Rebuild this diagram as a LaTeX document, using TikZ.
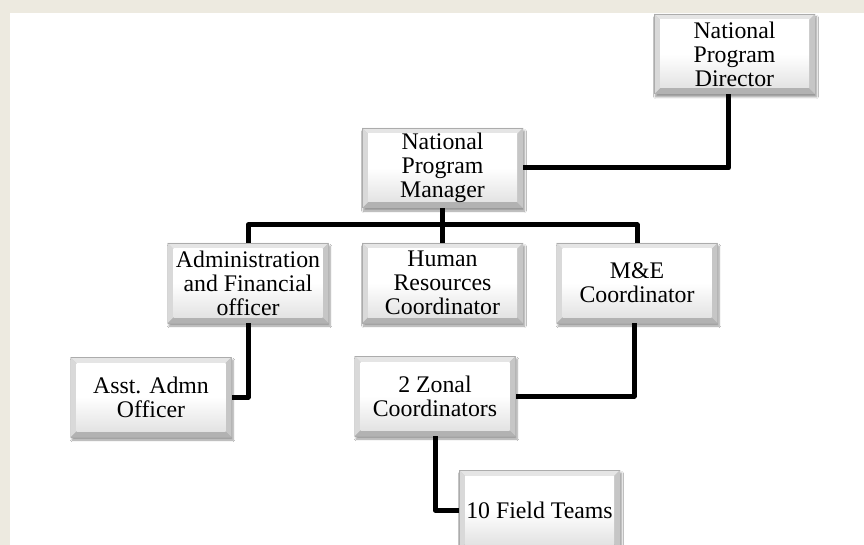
\documentclass[tikz,border=0pt]{standalone}
\usepackage{fontspec}
\setmainfont{Liberation Serif}
\usetikzlibrary{shadows.blur,calc}
\definecolor{beige}{HTML}{EDEAE0}
\tikzset{
  bevelbox/.style={
    minimum width=161pt, minimum height=80pt, inner sep=0pt, align=center,
    font=\fontsize{23.8}{24}\selectfont, text=black,
    blur shadow={shadow xshift=1.5pt, shadow yshift=-3pt, shadow blur steps=6, shadow opacity=40},
    fill=gray!45,
    path picture={
      \coordinate (NW) at (path picture bounding box.north west);
      \coordinate (NE) at (path picture bounding box.north east);
      \coordinate (SW) at (path picture bounding box.south west);
      \coordinate (SE) at (path picture bounding box.south east);
      \coordinate (nw) at ([shift={(6pt,-6pt)}]NW);
      \coordinate (ne) at ([shift={(-6pt,-6pt)}]NE);
      \coordinate (sw) at ([shift={(6pt,6pt)}]SW);
      \coordinate (se) at ([shift={(-6pt,6pt)}]SE);
      \fill[gray!20] (NW) -- (NE) -- (ne) -- (nw) -- cycle;
      \fill[gray!60] (SW) -- (SE) -- (se) -- (sw) -- cycle;
      \fill[gray!30] (NW) -- (SW) -- (sw) -- (nw) -- cycle;
      \fill[gray!45] (NE) -- (SE) -- (se) -- (ne) -- cycle;
      \shade[top color=white, bottom color=gray!22, middle color=white] (nw) rectangle (se);
      \draw[gray!65, line width=0.8pt] (NW) rectangle (SE);
    }
  },
  connector/.style={line width=5pt, black, line join=round}
}
\begin{document}
\begin{tikzpicture}[x=1pt,y=-1pt]
\fill[beige] (0,0) rectangle (864,545);
\fill[white] (10,13) rectangle (864,545);
\useasboundingbox (0,0) rectangle (864,545);

\node[bevelbox] (dir) at (734.5,54) {National\\Program\\Director};
\node[bevelbox] (mgr) at (442.5,168) {National\\Program\\Manager};
\node[bevelbox] (adm) at (248,283) {Administration\\and Financial\\officer};
\node[bevelbox] (hr)  at (442.5,283) {Human\\Resources\\Coordinator};
\node[bevelbox] (me)  at (637,283) {M\&E\\Coordinator};
\node[bevelbox] (asst) at (151,397) {Asst. Admn\\Officer};
\node[bevelbox] (zon) at (435,396) {2 Zonal\\Coordinators};
\node[bevelbox] (fld) at (539.5,510) {10 Field Teams};

\coordinate (dirs) at ([xshift=-6pt]dir.south);
\draw[connector] (dirs) |- (mgr.east);
\draw[connector] (mgr.south) -- (hr.north);
\draw[connector] (adm.north) -- (adm.north |- 0,225) -- (me.north |- 0,225) -- (me.north);
\coordinate (mes) at ([xshift=-3pt]me.south);
\draw[connector] (mes) |- (zon.east);
\draw[connector] (adm.south) |- (asst.east);
\draw[connector] (zon.south) |- (fld.west);
\end{tikzpicture}
\end{document}
